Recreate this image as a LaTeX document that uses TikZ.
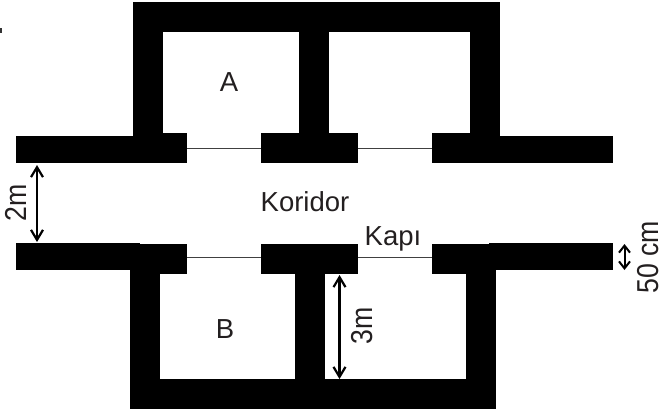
\documentclass[tikz,border=0pt]{standalone}
\usepackage{fontspec}
\setmainfont{Liberation Sans}
\usetikzlibrary{arrows.meta}
\definecolor{ink}{HTML}{231F20}
\tikzset{
  wall/.style={fill=black,draw=none},
  doorline/.style={draw=black!75,line width=1.2pt},
  dim/.style={draw=black,line width=2.2pt,{Straight Barb[length=10pt,width=12pt,line width=2.2pt]}-{Straight Barb[length=10pt,width=12pt,line width=2.2pt]}},
  dimshort/.style={draw=black,line width=2pt,{Straight Barb[length=7pt,width=11pt,line width=2pt]}-{Straight Barb[length=7pt,width=11pt,line width=2pt]}},
  lbl/.style={text=ink,font=\fontsize{27.5}{30}\selectfont,inner sep=0pt},
  sidelbl/.style={lbl,anchor=base,rotate=90,yscale=1.1,xscale=0.97}
}
\begin{document}
\begin{tikzpicture}[x=1pt,y=-1pt]
\useasboundingbox (0,0) rectangle (661,416);
% stray mark at the left edge
\fill[black!80] (0,28) rectangle (1.5,33);
% top rooms
\fill[wall] (133,2) rectangle (499.5,32);
\fill[wall] (133,2) rectangle (163,140);
\fill[wall] (298.5,2) rectangle (328.5,140);
\fill[wall] (469.5,2) rectangle (499.5,140);
\fill[wall] (16,136) rectangle (140,163);
\fill[wall] (140,132.5) rectangle (187,163);
\fill[wall] (261,132.5) rectangle (358,163);
\fill[wall] (432,132.5) rectangle (489,163);
\fill[wall] (489,136) rectangle (613,163);
\draw[doorline] (187,148.5) -- (261,148.5);
\draw[doorline] (358,148.5) -- (432,148.5);
% bottom rooms
\fill[wall] (16,243) rectangle (140,270);
\fill[wall] (140,244) rectangle (187,274);
\fill[wall] (261,244) rectangle (358,274);
\fill[wall] (432,244) rectangle (489,274);
\fill[wall] (489,243) rectangle (613,270);
\fill[wall] (129.5,270) rectangle (159.5,409);
\fill[wall] (295,270) rectangle (325,409);
\fill[wall] (465.7,270) rectangle (495.7,409);
\fill[wall] (129.5,379) rectangle (495.7,409);
\draw[doorline] (187,257.5) -- (261,257.5);
\draw[doorline] (358,257.5) -- (432,257.5);
% dimensions
\coordinate (a1) at (37,165); \coordinate (a2) at (37,242);
\coordinate (b1) at (339.5,275); \coordinate (b2) at (339.5,379);
\coordinate (c1) at (624.5,244); \coordinate (c2) at (624.5,270);
\draw[dim] (a1) -- (a2);
\draw[dim] (b1) -- (b2);
\draw[dimshort] (c1) -- (c2);
% labels
\node[lbl] (la) at (229,82.5) {A};
\node[lbl] (lb) at (225,329.5) {B};
\node[lbl,anchor=base] (lk) at (305,211) {Koridor};
\node[lbl,anchor=base] (lp) at (393,245.5) {Kapı};
\node[sidelbl] (l2) at (26,203) {2m};
\node[sidelbl] (l3) at (372,326) {3m};
\node[sidelbl] (l5) at (658.5,257.5) {50 cm};
\end{tikzpicture}
\end{document}
